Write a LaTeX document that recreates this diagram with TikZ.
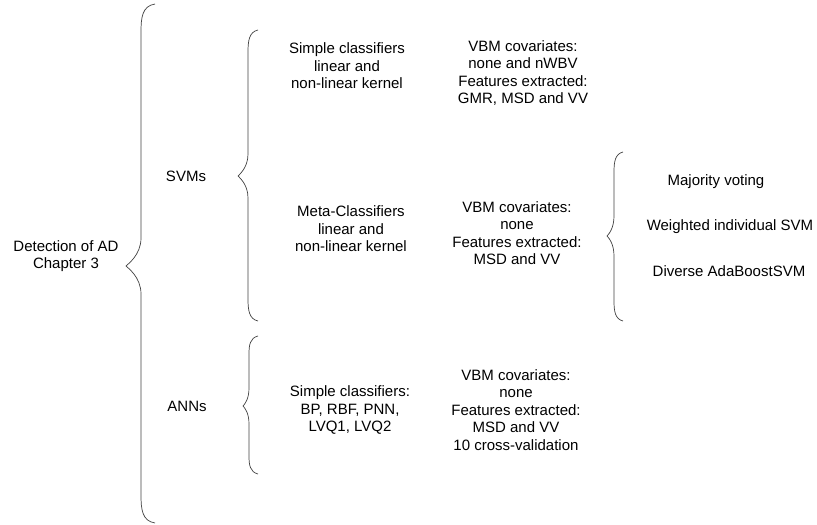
\documentclass[tikz,border=0pt]{standalone}
\usepackage{fontspec}
\setmainfont{Liberation Sans}
\begin{document}
\begin{tikzpicture}[x=1pt,y=-1pt,
  lbl/.style={inner sep=0pt,align=center,font=\fontsize{15}{17.5}\selectfont},
  brace/.style={draw=black!75,line width=0.7pt}]
\useasboundingbox (0,0) rectangle (817,525);
% brace: #1 x_end, #2 x_line, #3 x_tip, #4 y_top, #5 y_mid, #6 y_bot, #7 radius
\newcommand{\mybrace}[7]{%
  \draw[brace] (#1,#4) .. controls (#2+1,#4+2) and (#2,#4+#7*0.5) .. (#2,#4+#7)
    -- (#2,#5-#7) .. controls (#2,#5-#7*0.4) and (#3+2,#5-2) .. (#3,#5)
    .. controls (#3+2,#5+2) and (#2,#5+#7*0.4) .. (#2,#5+#7)
    -- (#2,#6-#7) .. controls (#2,#6-#7*0.5) and (#2+1,#6-2) .. (#1,#6);}
\mybrace{155}{141}{126}{4}{266}{523}{28}
\mybrace{258}{248}{238}{30}{176}{321}{22}
\mybrace{258}{249}{243}{336}{406}{474}{18}
\mybrace{623}{614}{607}{152}{236}{321}{20}

\node[lbl] (det) at (66,256) {Detection of AD\\Chapter 3};
\node[lbl] (svm) at (186,176) {SVMs};
\node[lbl] (ann) at (187,406) {ANNs};
\node[lbl] (sc1) at (347,66) {Simple classifiers\\linear and\\non-linear kernel};
\node[lbl] (vbm1) at (523,73) {VBM covariates:\\none and nWBV\\Features extracted:\\GMR, MSD and VV};
\node[lbl] (meta) at (351,229) {Meta-Classifiers\\linear and\\non-linear kernel};
\node[lbl] (vbm2) at (517,233) {VBM covariates:\\none\\Features extracted:\\MSD and VV};
\node[lbl] (sc2) at (350,410) {Simple classifiers:\\BP, RBF, PNN,\\LVQ1, LVQ2};
\node[lbl] (vbm3) at (516,410) {VBM covariates:\\none\\Features extracted:\\MSD and VV\\10 cross-validation};
\node[lbl] (mv) at (716,182) {Majority voting};
\node[lbl] (wis) at (730,227) {Weighted individual SVM};
\node[lbl] (dab) at (729,271) {Diverse AdaBoostSVM};
\end{tikzpicture}
\end{document}
